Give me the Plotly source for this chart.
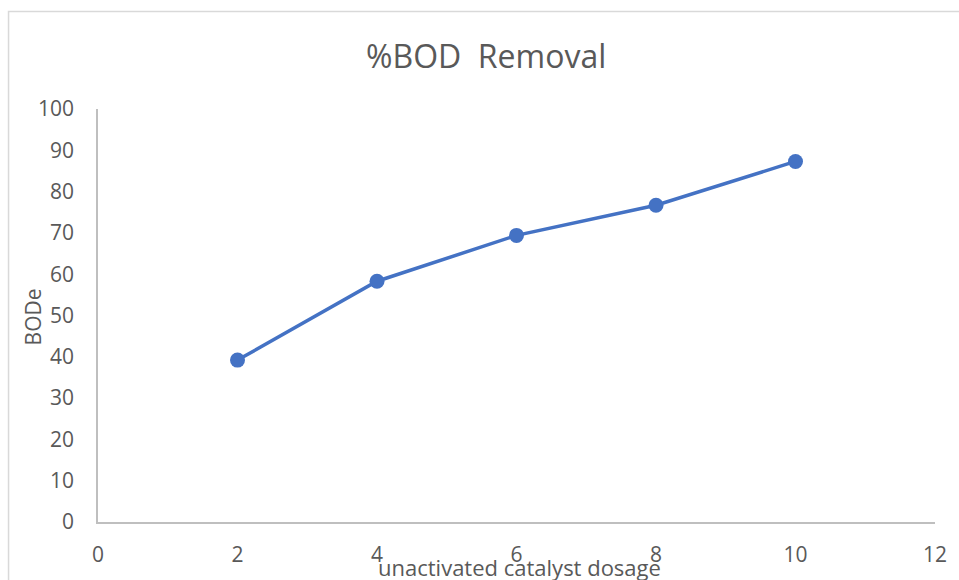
import plotly.graph_objects as go

# Catalyst dosage vs. BOD removal
dosage = [2, 4, 6, 8, 10]
bod_removal = [39.2, 58.3, 69.4, 76.7, 87.3]
x_ticks = [0, 2, 4, 6, 8, 10, 12]
y_ticks = [0, 10, 20, 30, 40, 50, 60, 70, 80, 90, 100]

TEXT = "#595959"
AXIS = "#BFBFBF"
FONT = "Open Sans"

W, H = 959, 580
L, R, T, B = 98, 19, 109, 56
pw, ph = W - L - R, H - T - B


def px_x(p):
    return (p - L) / pw


def px_y(p):
    return (H - B - p) / ph


fig = go.Figure()
fig.add_trace(go.Scatter(
    x=dosage, y=bod_removal, mode="lines+markers",
    line=dict(color="#4472C4", width=3.5),
    marker=dict(color="#4472C4", size=15),
    showlegend=False, hoverinfo="x+y",
))

fig.update_layout(
    width=W, height=H,
    margin=dict(l=L, r=R, t=T, b=B),
    paper_bgcolor="white", plot_bgcolor="white",
    font=dict(family=FONT, color=TEXT),
    xaxis=dict(
        range=[0, 12], tickvals=x_ticks, ticks="", showgrid=False, zeroline=False,
        showline=True, linecolor=AXIS, linewidth=1.5,
        tickfont=dict(size=21, color=TEXT, family=FONT), ticklabelstandoff=13,
    ),
    yaxis=dict(
        range=[0, 100], tickvals=y_ticks, ticks="", showgrid=False, zeroline=False,
        showline=True, linecolor=AXIS, linewidth=1.5,
        tickfont=dict(size=21, color=TEXT, family=FONT), ticklabelstandoff=18,
    ),
    shapes=[dict(
        type="rect", xref="paper", yref="paper",
        x0=px_x(8), x1=px_x(W + 20), y0=px_y(H + 20), y1=px_y(11),
        line=dict(color="#D9D9D9", width=1.5), fillcolor="rgba(0,0,0,0)", layer="below",
    )],
    annotations=[
        dict(text="%BOD  Removal", xref="paper", yref="paper",
             x=px_x(488), y=px_y(55), xanchor="center", yanchor="middle",
             showarrow=False, font=dict(size=32, color=TEXT, family=FONT)),
        dict(text="unactivated catalyst dosage", xref="paper", yref="paper",
             x=px_x(522), y=px_y(569), xanchor="center", yanchor="middle",
             showarrow=False, font=dict(size=22, color=TEXT, family=FONT)),
        dict(text="BODe", xref="paper", yref="paper", textangle=-90,
             x=px_x(33), y=px_y(318), xanchor="center", yanchor="middle",
             showarrow=False, font=dict(size=21, color=TEXT, family=FONT)),
    ],
)

fig.write_html("out.html")
